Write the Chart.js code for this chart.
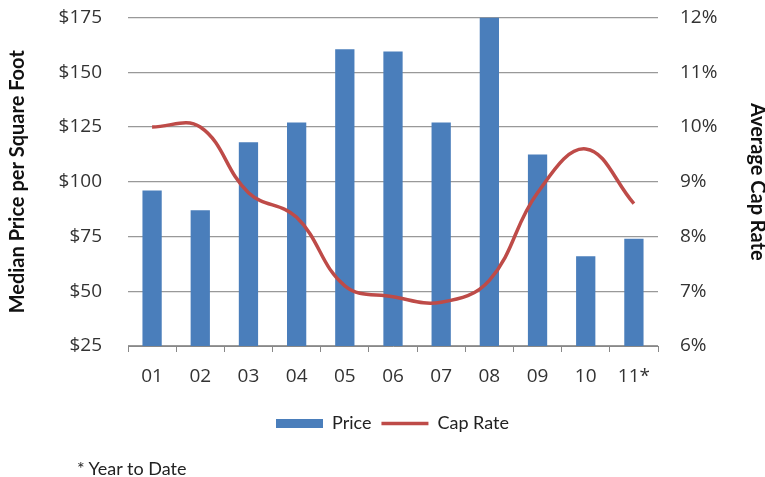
<!DOCTYPE html>
<html>
<head>
<meta charset="utf-8">
<script src="https://cdn.jsdelivr.net/npm/chart.js@4.4.0/dist/chart.umd.min.js"></script>
<style>
    html, body { margin: 0; padding: 0; background: #ffffff; }
    .wrap { position: relative; width: 765px; height: 477px; }
    .note { position: absolute; left: 77px; top: 458px; font-family: Lato, sans-serif; font-size: 18px; line-height: 20px; color: #222; }
</style>
</head>
<body>
<div class="wrap">
    <canvas id="capChart" width="765" height="477"></canvas>
    <div class="note">* Year to Date</div>
</div>
<script>
// data
const years = ['01', '02', '03', '04', '05', '06', '07', '08', '09', '10', '11*'];
const price = [96, 87, 118, 127, 160.5, 159.5, 127, 175, 112.5, 66, 74];
const capRate = [10.0, 10.0, 8.8, 8.35, 7.1, 6.9, 6.8, 7.2, 8.8, 9.6, 8.6];
const priceRange = [25, 175, 25];   // min, max, step
const rateRange = [6, 12, 1];

document.addEventListener("DOMContentLoaded", () => {

    const tickFont = { family: "Open Sans", size: 19 };
    const titleFont = { family: "Lato", size: 20, weight: "bold" };
    const legendFont = { family: "Lato", size: 18 };

    // legend sits under the middle of the plot, not the canvas
    const legendShift = {
        id: "legendShift",
        afterLayout(chart) {
            if (chart.legend) {
                chart.legend.left += 10;
                chart.legend.right += 10;
            }
        }
    };

    // fixed side widths; drop the label padding chart.js adds above the plot
    const fitSide = (w) => (s) => {
        s.width = w;
        s.paddingTop = 0;
        s.paddingBottom = 0;
    };

    new Chart(document.getElementById("capChart"), {
        data: {
            labels: years,
            datasets: [
                {
                    type: "line", label: "Cap Rate", data: capRate, yAxisID: "yRate",
                    borderColor: "#be4b48", backgroundColor: "#be4b48", borderWidth: 3.5,
                    tension: 0.4, pointRadius: 0, pointStyle: "line", order: 0
                },
                {
                    type: "bar", label: "Price", data: price, yAxisID: "yPrice",
                    backgroundColor: "#4a7ebb", borderWidth: 0, pointStyle: "rect",
                    barPercentage: 0.4, categoryPercentage: 1, order: 1
                }
            ]
        },
        options: {
            responsive: false,
            animation: false,
            layout: { padding: { top: 17.5, bottom: 34.5, left: 0, right: 0 } },
            plugins: {
                legend: {
                    position: "bottom",
                    reverse: true,
                    labels: {
                        usePointStyle: true, pointStyleWidth: 47, boxHeight: 9,
                        padding: 10, color: "#222", font: legendFont
                    }
                },
                tooltip: { enabled: false }
            },
            scales: {
                x: {
                    afterFit: (s) => { s.height = 58.5; },
                    grid: { drawOnChartArea: false, drawTicks: true, tickLength: 6, color: "#888", offset: true },
                    border: { color: "#888", width: 1 },
                    ticks: { padding: 13, color: "#333", font: tickFont }
                },
                yPrice: {
                    position: "left",
                    min: priceRange[0], max: priceRange[1],
                    afterFit: fitSide(128),
                    grid: { color: "#999", lineWidth: 1.2, drawTicks: false },
                    border: { display: false },
                    ticks: { stepSize: priceRange[2], padding: 26, color: "#333", font: tickFont, callback: (v) => `$${v}` },
                    title: { display: true, text: "Median Price per Square Foot", color: "#111", font: titleFont, padding: { top: 6, bottom: 0 } }
                },
                yRate: {
                    position: "right",
                    min: rateRange[0], max: rateRange[1],
                    afterFit: fitSide(107),
                    grid: { drawOnChartArea: false, drawTicks: false },
                    border: { display: false },
                    ticks: { stepSize: rateRange[2], padding: 22, color: "#333", font: tickFont, callback: (v) => `${v}%` },
                    title: { display: true, text: "Average Cap Rate", color: "#111", font: titleFont, padding: { top: -4, bottom: 0 } }
                }
            }
        },
        plugins: [legendShift]
    });

});
</script>
</body>
</html>
